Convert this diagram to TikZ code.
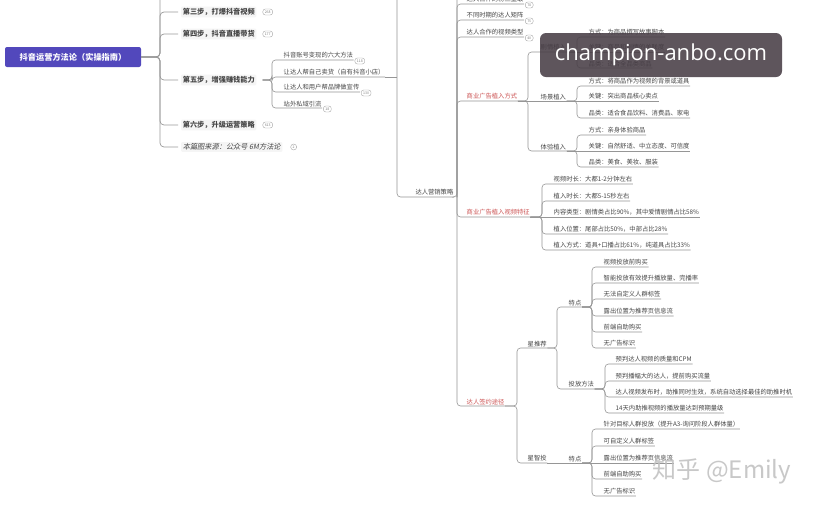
\documentclass[tikz,border=0pt]{standalone}
\usepackage{fontspec}
\setmainfont{Noto Sans CJK SC}
\newfontfamily\slantfont{Noto Sans CJK SC}[FakeSlant=0.2]
\newfontfamily\markfont{Open Sans}

\definecolor{rootblue}{RGB}{82,72,188}
\definecolor{linegray}{RGB}{150,150,150}
\definecolor{txtgray}{RGB}{70,70,70}
\definecolor{hotred}{RGB}{205,85,85}
\definecolor{overlaybg}{RGB}{72,62,70}

\newcommand{\itemfont}{\fontsize{6.3}{7}\selectfont}
\newcommand{\stagefont}{\fontsize{7.2}{8}\selectfont\bfseries}
% parent underline -> bracket -> child underline
\newcommand{\twig}[3]{\draw[link] (#1.south east) -| ([xshift=-#3]#2.south west) -- (#2.south east);}

\tikzset{
  link/.style={draw=linegray, line width=0.6pt, rounded corners=3.5pt},
  trunk/.style={draw=gray!80, line width=0.7pt, rounded corners=4pt},
  item/.style={anchor=south west, inner xsep=0.5pt, inner ysep=1.3pt, font=\itemfont, text=txtgray},
  hot/.style={item, text=hotred},
  stage/.style={anchor=west, font=\stagefont, text=txtgray, fill=black!4, inner sep=1.6pt, rounded corners=1pt},
  badge/.style={anchor=west, draw=gray!70, fill=white, rounded corners=2.5pt, font=\fontsize{3.5}{4}\selectfont, text=gray, inner xsep=2pt, inner ysep=1pt, minimum height=6pt},
  rootbox/.style={fill=rootblue, text=white, font=\fontsize{8.2}{9}\selectfont\bfseries, minimum width=136pt, minimum height=20pt, rounded corners=2pt}
}

\begin{document}
\begin{tikzpicture}[x=1pt, y=-1pt]
    \fill[white] (0,0) rectangle (815,507);
    \useasboundingbox (0,0) rectangle (815,507);

    % Root and steps
    \node[rootbox] (root) at (73,57) {抖音运营方法论（实操指南）};
    \node[stage] (s3) at (181,12) {第三步，打爆抖音视频};
    \node[stage] (s4) at (181,34) {第四步，抖音直播带货};
    \node[stage] (s5) at (181,80) {第五步，增强赚钱能力};
    \node[stage] (s6) at (181,125) {第六步，升级运营策略};
    \node[stage, font=\slantfont\fontsize{7.2}{8}\selectfont] (src) at (181,147) {本篇图来源：公众号 6M方法论};
    \node[badge] (b3) at ([xshift=6pt]s3.east) {268};
    \node[badge] (b4) at ([xshift=6pt]s4.east) {177};
    \node[badge] (b6) at ([xshift=6pt]s6.east) {613};
    \node[badge, circle, inner sep=0.6pt, minimum size=6pt] (b7) at ([xshift=8pt]src.east) {2};

    \coordinate (top1) at (160,-10);
    \draw[trunk] (root.east) -| (top1);
    \draw[trunk, shorten >=3pt] (root.east) -| ([xshift=-21pt]s3.west) -- (s3.west);
    \draw[trunk, shorten >=3pt] (root.east) -| ([xshift=-21pt]s4.west) -- (s4.west);
    \draw[trunk, shorten >=3pt] (root.east) -| ([xshift=-21pt]s5.west) -- (s5.west);
    \draw[trunk, shorten >=3pt] (root.east) -| ([xshift=-21pt]s6.west) -- (s6.west);
    \draw[trunk, shorten >=3pt] (root.east) -| ([xshift=-21pt]src.west) -- (src.west);

    % Step five
    \node[item] (c51) at (283,60) {抖音账号变现的六大方法};
    \node[item] (c52) at (283,77) {让达人帮自己卖货（自有抖音小店）};
    \node[item] (c53) at (283,92) {让达人和用户帮品牌做宣传};
    \node[item] (c54) at (283,108) {站外私域引流};
    \node[badge, yshift=-1pt] (b51) at ([xshift=1pt]c51.south east) {118};
    \node[badge, yshift=-1pt] (b53) at ([xshift=1pt]c53.south east) {130};
    \node[badge, yshift=-1pt] (b54) at ([xshift=1pt]c54.south east) {18};
    \draw[link] ([xshift=6pt]s5.east) -| ([xshift=-11pt]c51.south west) -- (c51.south east);
    \draw[link] ([xshift=6pt]s5.east) -| ([xshift=-11pt]c52.south west) -- (c52.south east);
    \draw[link] ([xshift=6pt]s5.east) -| ([xshift=-11pt]c53.south west) -- (c53.south east);
    \draw[link] ([xshift=6pt]s5.east) -| ([xshift=-11pt]c54.south west) -- (c54.south east);

    % Influencer strategy
    \coordinate (top2) at (397,-10);
    \coordinate (top3) at (457,-10);
    \coordinate (kb) at (457,197);
    \node[item, anchor=south east] (strat) at (454,197) {达人营销策略};
    \draw[link] (top2) |- (strat.south east);
    \draw[link] (c52.south east) -- (c52.south east -| top2);
    \draw[link] (strat.south east) -- (kb) -- (top3);

    \node[item] (k1) at (466,4) {达人合作的粉丝量级};
    \node[item] (k2) at (466,20) {不同时期的达人矩阵};
    \node[item] (k3) at (466,37) {达人合作的视频类型};
    \node[hot] (k4) at (466,101) {商业广告植入方式};
    \node[hot] (k5) at (466,217) {商业广告植入视频特征};
    \node[hot] (k6) at (466,406) {达人签约途径};
    \node[badge, yshift=-1pt] (bk1) at ([xshift=1pt]k1.south east) {78};
    \node[badge, yshift=-1pt] (bk2) at ([xshift=1pt]k2.south east) {75};
    \node[badge, yshift=-1pt] (bk3) at ([xshift=1pt]k3.south east) {40};
    \draw[link] (kb) |- (k1.south east);
    \draw[link] (kb) |- (k2.south east);
    \draw[link] (kb) |- (k3.south east);
    \draw[link] (kb) |- (k4.south east);
    \draw[link] (kb) |- (k5.south east);
    \draw[link] (kb) |- (k6.south east);

    % Ad placement ways
    \node[item] (p1) at (540,52) {剧情植入};
    \node[item] (p2) at (540,101) {场景植入};
    \node[item] (p3) at (540,151) {体验植入};
    \twig{k4}{p1}{12pt}
    \draw[link] (k4.south east) -- (p2.south east);
    \twig{k4}{p3}{12pt}

    \node[item] (q11) at (588,37) {方式：为商品撰写故事脚本};
    \node[item] (q12) at (588,52) {关键：商品和剧情的关联度};
    \node[item] (q13) at (588,68) {品类：适合全品类商品};
    \node[item] (q21) at (588,86) {方式：将商品作为视频的背景或道具};
    \node[item] (q22) at (588,101) {关键：突出商品核心卖点};
    \node[item] (q23) at (588,118) {品类：适合食品饮料、消费品、家电};
    \node[item] (q31) at (588,135) {方式：亲身体验商品};
    \node[item] (q32) at (588,151) {关键：自然舒适、中立态度、可信度};
    \node[item] (q33) at (588,167) {品类：美食、美妆、服装};
    \twig{p1}{q11}{11pt}
    \draw[link] (p1.south east) -- (q12.south east);
    \twig{p1}{q13}{11pt}
    \twig{p2}{q21}{11pt}
    \draw[link] (p2.south east) -- (q22.south east);
    \twig{p2}{q23}{11pt}
    \twig{p3}{q31}{11pt}
    \draw[link] (p3.south east) -- (q32.south east);
    \twig{p3}{q33}{11pt}

    % Ad video features
    \node[item] (v1) at (553,184) {视频时长：大都1-2分钟左右};
    \node[item] (v2) at (553,201) {植入时长：大都5-15秒左右};
    \node[item] (v3) at (553,217) {内容类型：剧情类占比90\%，其中爱情剧情占比58\%};
    \node[item] (v4) at (553,234) {植入位置：尾部占比50\%，中部占比28\%};
    \node[item] (v5) at (553,250) {植入方式：道具+口播占比61\%，纯道具占比33\%};
    \twig{k5}{v1}{11pt}
    \twig{k5}{v2}{11pt}
    \draw[link] (k5.south east) -- (v3.south east);
    \twig{k5}{v4}{11pt}
    \twig{k5}{v5}{11pt}

    % Signing channels
    \node[item] (r1) at (527,348) {星推荐};
    \node[item] (r2) at (527,463) {星智投};
    \twig{k6}{r1}{10pt}
    \twig{k6}{r2}{10pt}

    \node[item] (t1) at (568,307) {特点};
    \node[item] (t2) at (568,389) {投放方法};
    \node[item] (t3) at (568,463) {特点};
    \twig{r1}{t1}{11pt}
    \twig{r1}{t2}{11pt}
    \draw[link] (r2.south east) -- (t3.south east);

    \node[item] (u1) at (603,267) {视频投放前购买};
    \node[item] (u2) at (603,283) {智能投放有效提升播放量、完播率};
    \node[item] (u3) at (603,299) {无法自定义人群标签};
    \node[item] (u4) at (603,316) {露出位置为推荐页信息流};
    \node[item] (u5) at (603,332) {前端自助购买};
    \node[item] (u6) at (603,348) {无广告标识};
    \twig{t1}{u1}{11pt}
    \twig{t1}{u2}{11pt}
    \twig{t1}{u3}{11pt}
    \twig{t1}{u4}{11pt}
    \twig{t1}{u5}{11pt}
    \twig{t1}{u6}{11pt}

    \node[item] (w1) at (615,364) {预判达人视频的质量和CPM};
    \node[item] (w2) at (615,381) {预判播幅大的达人，提前购买流量};
    \node[item] (w3) at (615,397) {达人视频发布时，助推同时生效，系统自动选择最佳的助推时机};
    \node[item] (w4) at (615,413) {14天内助推视频的播放量达到预期量级};
    \twig{t2}{w1}{10pt}
    \twig{t2}{w2}{10pt}
    \twig{t2}{w3}{10pt}
    \twig{t2}{w4}{10pt}

    \node[item] (z1) at (603,429) {针对目标人群投放（提升A3-询问阶段人群体量）};
    \node[item] (z2) at (603,446) {可自定义人群标签};
    \node[item] (z3) at (603,463) {露出位置为推荐页信息流};
    \node[item] (z4) at (603,479) {前端自助购买};
    \node[item] (z5) at (603,496) {无广告标识};
    \twig{t3}{z1}{11pt}
    \twig{t3}{z2}{11pt}
    \draw[link] (t3.south east) -- (z3.south east);
    \twig{t3}{z4}{11pt}
    \twig{t3}{z5}{11pt}

    % Watermarks
    \node[fill=overlaybg, fill opacity=0.88, text opacity=1, text=white, rounded corners=6pt,
          minimum width=242pt, minimum height=44pt, font=\markfont\fontsize{22}{24}\selectfont] (mark) at (661,55) {champion-anbo.com};
    \node[text=gray!50, opacity=0.85, font=\fontsize{24}{26}\selectfont] (zhihu) at (722,471) {知乎 @Emily};
\end{tikzpicture}
\end{document}
